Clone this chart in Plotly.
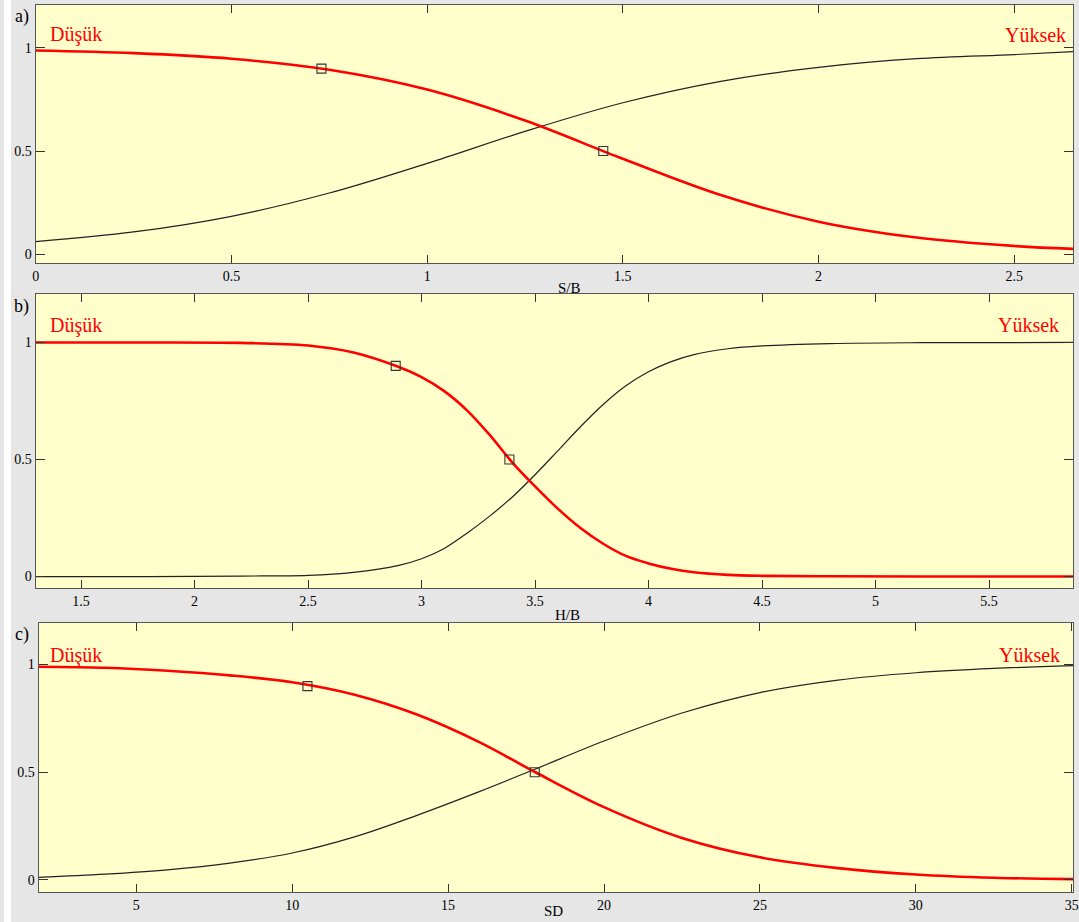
import plotly.graph_objects as go

# ---------------- data ----------------
sb_x = [0, 0.25, 0.5, 0.75, 1.0, 1.25, 1.5, 1.75, 2.0, 2.25, 2.5, 2.65]
sb_dusuk = [0.988, 0.975, 0.948, 0.894, 0.798, 0.648, 0.462, 0.286, 0.157, 0.080, 0.039, 0.025]
sb_yuksek = [0.060, 0.107, 0.183, 0.296, 0.440, 0.595, 0.734, 0.838, 0.906, 0.948, 0.968, 0.982]
sb_mark_x = [0.73, 1.45]
sb_mark_y = [0.9, 0.5]

hb_x = [1.3, 1.8, 2.2, 2.5, 2.7, 2.9, 3.0, 3.1, 3.2, 3.3, 3.4, 3.5, 3.6, 3.7,
        3.8, 3.9, 4.0, 4.1, 4.2, 4.35, 4.5, 4.8, 5.2, 5.87]
hb_dusuk = [1.0, 1.0, 0.998, 0.987, 0.957, 0.895, 0.852, 0.792, 0.71, 0.605, 0.487,
            0.385, 0.29, 0.207, 0.14, 0.088, 0.056, 0.033, 0.018, 0.007, 0.003, 0.001, 0.0, 0.0]
hb_yuksek = [0.0, 0.0, 0.002, 0.005, 0.018, 0.048, 0.076, 0.12, 0.185, 0.258, 0.34,
             0.435, 0.537, 0.64, 0.735, 0.815, 0.875, 0.918, 0.948, 0.973, 0.985, 0.995, 0.999, 1.0]
hb_mark_x = [2.886, 3.387]
hb_mark_y = [0.9, 0.5]

sd_x = [1.87, 4, 6, 8, 10, 12, 14, 16, 17.8, 20, 22.5, 25, 27.5, 30, 32.5, 35.04]
sd_dusuk = [0.99, 0.985, 0.971, 0.95, 0.918, 0.86, 0.768, 0.64, 0.50, 0.338, 0.195,
            0.105, 0.055, 0.025, 0.01, 0.004]
sd_yuksek = [0.012, 0.027, 0.047, 0.078, 0.125, 0.2, 0.3, 0.41, 0.515, 0.645, 0.775,
             0.87, 0.928, 0.962, 0.982, 0.995]
sd_mark_x = [10.49, 17.78]
sd_mark_y = [0.9, 0.5]

panel_letters = ["a)", "b)", "c)"]
axis_titles = ["S/B", "H/B", "SD"]
low_label = "Düşük"
high_label = "Yüksek"
y_tickvals = [0, 0.5, 1]
y_ticktext = ["0", "0.5", "1"]

# ---------------- layout constants ----------------
W, H = 1079, 922
FONT = "Liberation Serif"
RED = "#ff0000"
BLACK = "#222222"


def px_x(p):
    return p / W


def px_y(p):
    return 1 - p / H


panels = [
    dict(x=sb_x, lo=sb_dusuk, hi=sb_yuksek, mx=sb_mark_x, my=sb_mark_y,
         xr=[0, 2.65], yr=[-0.0437, 1.2087], dtick=0.5,
         left=32, top=5, bottom=263),
    dict(x=hb_x, lo=hb_dusuk, hi=hb_yuksek, mx=hb_mark_x, my=hb_mark_y,
         xr=[1.3, 5.87], yr=[-0.049, 1.207], dtick=0.5,
         left=32, top=294, bottom=588),
    dict(x=sd_x, lo=sd_dusuk, hi=sd_yuksek, mx=sd_mark_x, my=sd_mark_y,
         xr=[1.87, 35.04], yr=[-0.056, 1.193], dtick=5,
         left=35, top=623, bottom=892),
]

# pixel positions of text items
letter_pos = [(18, 16), (18, 306), (18, 634)]
low_pos = [(44, 35), (44, 326), (44, 655)]
high_pos = [(1074, 35), (1067, 325), (1068, 655)]
title_pos = [(571, 288), (569, 615), (555, 911)]

fig = go.Figure()
layout = dict(
    width=W, height=H,
    margin=dict(l=0, r=0, t=0, b=0),
    paper_bgcolor="#e6e6e6",
    plot_bgcolor="#ffffcc",
    showlegend=False,
    font=dict(family=FONT, color="black"),
)
annotations = []

for i, p in enumerate(panels):
    n = "" if i == 0 else str(i + 1)
    xa, ya = "x" + n, "y" + n
    fig.add_trace(go.Scatter(x=p["x"], y=p["hi"], mode="lines", xaxis=xa, yaxis=ya,
                             line=dict(color=BLACK, width=1.2, shape="spline", smoothing=1.0),
                             hoverinfo="skip"))
    fig.add_trace(go.Scatter(x=p["x"], y=p["lo"], mode="lines", xaxis=xa, yaxis=ya,
                             line=dict(color=RED, width=2.6, shape="spline", smoothing=1.0),
                             hoverinfo="skip"))
    fig.add_trace(go.Scatter(x=p["mx"], y=p["my"], mode="markers", xaxis=xa, yaxis=ya,
                             marker=dict(symbol="square-open", size=9, color="#333333",
                                         line=dict(width=1.1)),
                             hoverinfo="skip"))
    layout["xaxis" + n] = dict(
        domain=[px_x(p["left"]), 1.0], range=p["xr"], anchor=ya,
        dtick=p["dtick"], tick0=0, ticks="inside", ticklen=8, tickwidth=1,
        tickcolor="#333333", showline=True, linecolor="#555555", linewidth=1.2,
        mirror="ticks", showgrid=False, zeroline=False, ticklabeloverflow="allow",
        tickfont=dict(family=FONT, size=14, color="black"),
    )
    layout["yaxis" + n] = dict(
        domain=[px_y(p["bottom"]), px_y(p["top"])], range=p["yr"], anchor=xa,
        tickvals=y_tickvals, ticktext=y_ticktext, ticks="inside", ticklen=9,
        tickwidth=1, tickcolor="#333333", showline=True, linecolor="#555555",
        linewidth=1.2, mirror="ticks", showgrid=False, zeroline=False,
        tickfont=dict(family=FONT, size=14, color="black"),
    )
    lx, ly = letter_pos[i]
    annotations.append(dict(text=panel_letters[i], x=px_x(lx), y=px_y(ly), xref="paper",
                            yref="paper", showarrow=False, xanchor="center", yanchor="middle",
                            font=dict(family=FONT, size=18, color="black")))
    dx, dy = low_pos[i]
    annotations.append(dict(text=low_label, x=px_x(dx), y=px_y(dy), xref="paper",
                            yref="paper", showarrow=False, xanchor="left", yanchor="middle",
                            font=dict(family=FONT, size=20, color=RED)))
    hx, hy = high_pos[i]
    annotations.append(dict(text=high_label, x=px_x(hx), y=px_y(hy), xref="paper",
                            yref="paper", showarrow=False, xanchor="right", yanchor="middle",
                            font=dict(family=FONT, size=20, color=RED)))
    tx, ty = title_pos[i]
    annotations.append(dict(text=axis_titles[i], x=px_x(tx), y=px_y(ty), xref="paper",
                            yref="paper", showarrow=False, xanchor="center", yanchor="middle",
                            font=dict(family=FONT, size=15, color="black")))

layout["annotations"] = annotations
layout["shapes"] = [
    dict(type="rect", xref="paper", yref="paper", x0=0, x1=px_x(7), y0=0, y1=1,
         fillcolor="white", line=dict(width=0), layer="below"),
]
fig.update_layout(**layout)
fig.write_html(
    "out.html",
    config={"displayModeBar": False},
    post_script="document.body.style.margin='0';document.body.style.overflow='hidden';",
)
